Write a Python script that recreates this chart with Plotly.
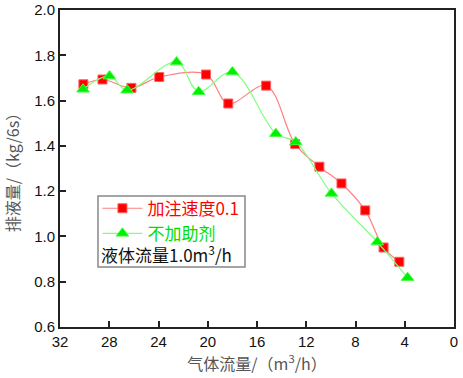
import plotly.graph_objects as go

red_x = [30.1, 28.55, 26.2, 23.94, 20.14, 18.33, 15.26, 12.9, 10.93, 9.14, 7.21, 5.72, 4.44]
red_y = [1.672, 1.693, 1.656, 1.704, 1.715, 1.587, 1.666, 1.408, 1.308, 1.234, 1.115, 0.951, 0.888]
green_x = [30.13, 27.98, 26.55, 22.53, 20.74, 18.0, 14.47, 12.85, 9.95, 6.23, 3.77]
green_y = [1.650, 1.708, 1.646, 1.770, 1.639, 1.726, 1.454, 1.417, 1.190, 0.975, 0.818]

x_ticks = [32, 28, 24, 20, 16, 12, 8, 4, 0]
y_ticks = [0.6, 0.8, 1.0, 1.2, 1.4, 1.6, 1.8, 2.0]
series_names = ["加注速度0.1", "不加助剂"]
note = "液体流量1.0m<sup>3</sup>/h"

fig = go.Figure()
fig.add_trace(go.Scatter(
    x=red_x, y=red_y, mode="lines+markers",
    name="<span style='color:#ff0000'>" + series_names[0] + "</span>",
    line=dict(color="#ff8080", width=1.2, shape="spline", smoothing=1),
    marker=dict(symbol="square", size=9, color="#ff0000", line=dict(color="#ff6060", width=1)),
))
fig.add_trace(go.Scatter(
    x=green_x, y=green_y, mode="lines+markers",
    name="<span style='color:#00e000'>" + series_names[1] + "</span>",
    line=dict(color="#80ff80", width=1.2, shape="spline", smoothing=1),
    marker=dict(symbol="triangle-up", size=11, color="#00ee00", line=dict(color="#40ff40", width=1)),
))

axis_common = dict(
    showline=True, linecolor="#222", linewidth=2, mirror=True,
    ticks="inside", ticklen=6, tickwidth=1.5, tickcolor="#222",
    showgrid=False, zeroline=False, automargin=False,
    tickfont=dict(family="Arial, Liberation Sans", size=15, color="#111"),
)

fig.update_xaxes(
    range=[32, 0], tickvals=x_ticks, ticktext=[str(v) for v in x_ticks],
    title=dict(text="气体流量/（m<sup>3</sup>/h）", font=dict(family="Noto Sans CJK SC, Arial", size=16, color="#555"), standoff=9),
    **axis_common,
)
fig.update_yaxes(
    range=[0.6, 2.0], tickvals=y_ticks, ticktext=[f"{v:.1f}" for v in y_ticks],
    title=dict(text="排液量/（kg/6s）", font=dict(family="Noto Sans CJK SC, Arial", size=16, color="#555"), standoff=11),
    **axis_common,
)

fig.update_layout(
    width=463, height=378,
    margin=dict(l=60, r=9, t=10, b=51),
    plot_bgcolor="white", paper_bgcolor="white",
    showlegend=True,
    legend=dict(
        x=0.095, y=0.43, xanchor="left", yanchor="top",
        bgcolor="rgba(0,0,0,0)", borderwidth=0,
        font=dict(family="Noto Sans CJK SC, Arial", size=17),
        itemwidth=40, tracegroupgap=0,
    ),
    annotations=[dict(
        xref="paper", yref="paper", x=0.098, y=(327 - 254) / 317, xanchor="left", yanchor="middle",
        text=note, showarrow=False,
        font=dict(family="Noto Sans CJK SC, Arial", size=17, color="#111"),
    )],
    shapes=[dict(
        type="rect", xref="paper", yref="paper",
        x0=(98 - 60) / 394, x1=(245 - 60) / 394,
        y0=(327 - 267) / 317, y1=(327 - 196) / 317,
        line=dict(color="#888", width=1.5), fillcolor="rgba(0,0,0,0)",
    )],
)

fig.write_html("out.html", config={"displayModeBar": False},
               post_script="document.body.style.margin='0';")
